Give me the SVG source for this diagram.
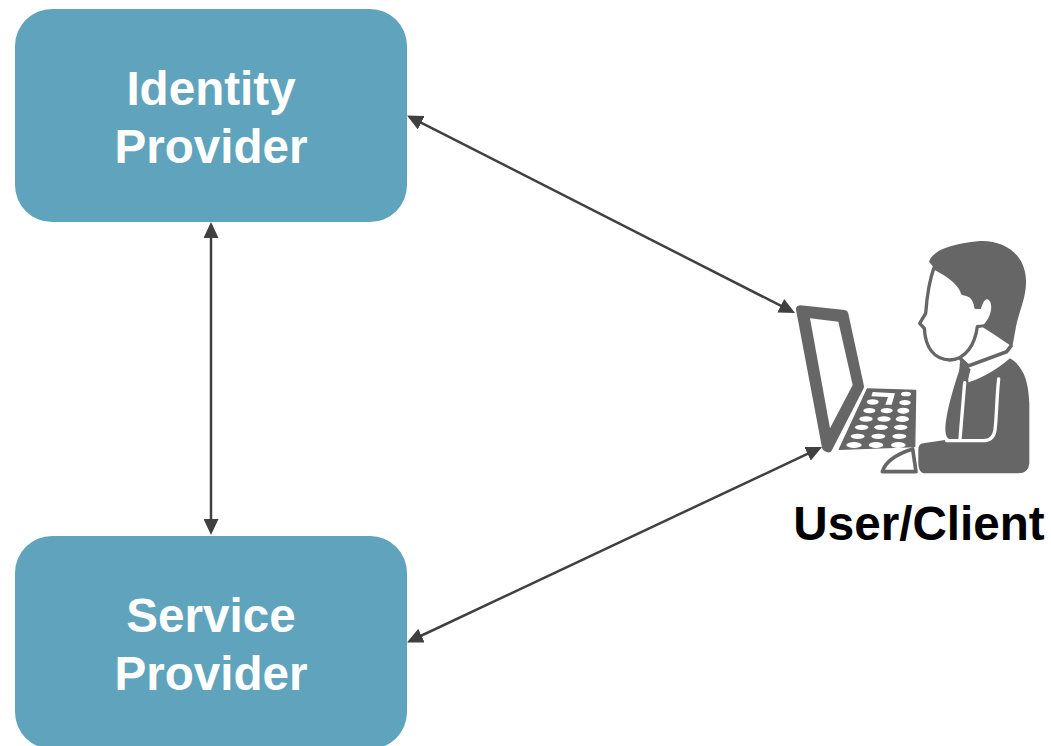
<svg xmlns="http://www.w3.org/2000/svg" width="1051" height="746" viewBox="0 0 1051 746">
<style>
.box{fill:#60a3bd}
.t{font-family:"Liberation Sans",Arial,sans-serif;font-weight:700;font-size:47.6px;text-anchor:middle}
.w{fill:#fff}
.conn{stroke:#404040;stroke-width:2.5;fill:none;marker-start:url(#a);marker-end:url(#a)}
.d{fill:#666}
.k{fill:#fff}
</style>
<defs>
<marker id="a" viewBox="0 0 16 15" refX="8" refY="7.5" markerWidth="16" markerHeight="15" markerUnits="userSpaceOnUse" orient="auto-start-reverse"><path d="M0,0L16,7.5L0,15Z" fill="#404040"/></marker>
</defs>
<rect width="1051" height="746" fill="#fff"/>
<g id="connectors">
<line class="conn" x1="211" y1="230" x2="211" y2="527"/>
<line class="conn" x1="414.1" y1="119.1" x2="787.9" y2="309.4"/>
<line class="conn" x1="414.2" y1="639" x2="814.8" y2="450.4"/>
</g>
<g id="identity-provider">
<rect class="box" x="15" y="9" width="392" height="213" rx="37"/>
<text class="t w" x="211" y="104.5">Identity</text>
<text class="t w" x="211" y="162.5">Provider</text>
</g>
<g id="service-provider">
<rect class="box" x="15" y="536" width="392" height="213" rx="37"/>
<text class="t w" x="211" y="631.5">Service</text>
<text class="t w" x="211" y="689.5">Provider</text>
</g>
<g id="user-client">
<g transform="translate(780 230) scale(.33333)">
<path class="d" d="M447,95C460,60 510,42 600,33C670,30 735,70 738,150C740,200 718,240 708,290L697,350L640,312L598,285L590,240L548,190L462,113Z"/>
<path d="M462,113C445,160 440,210 437,250L419,280L433,295C436,350 460,388 510,390C560,388 585,340 592,290L612,286C640,255 645,215 622,205C610,205 608,225 603,232L588,232C583,205 575,195 548,190C540,160 505,135 462,113Z" fill="#fff" stroke="#666" stroke-width="10" stroke-linejoin="round"/>
<path d="M604,232C608,226 610,208 622,208C640,215 638,255 612,283L596,284Z" fill="#fff"/>
<path class="d" d="M540,415L565,425L565,457C620,440 660,410 690,385C730,410 745,450 748,520L748,700Q745,730 715,730L430,730Q415,725 415,700L415,660Q415,640 430,640L510,628C495,625 495,600 497,580C505,520 525,460 540,415Z"/>
<path d="M540,385L565,408L680,365L695,345" fill="none" stroke="#666" stroke-width="11"/>
<path class="d" d="M540,392L572,418L566,440L558,458L538,422Z"/>
<path d="M554,458L540,627M656,447C650,500 650,560 645,600Q640,632 610,632L500,632" fill="none" stroke="#fff" stroke-width="10" stroke-linecap="round"/>
<path class="d" stroke="#666" stroke-width="24" stroke-linejoin="round" d="M60,238L193,252L240,470L145,655L138,652Z"/>
<path fill="#fff" d="M90,265L175,275L218,465L150,595Z"/>
<path class="d" stroke="#666" stroke-width="4" stroke-linejoin="round" d="M262,477L407,481L404,650L178,658Z"/>
<g class="k">
<path d="M278,486L345,490L335,524L316,524L324,501L274,499Z"/>
<ellipse cx="378" cy="492" rx="15" ry="7"/><ellipse cx="278" cy="516" rx="18" ry="8"/><ellipse cx="375" cy="518" rx="17" ry="8"/>
<ellipse cx="268" cy="542" rx="18" ry="8"/><ellipse cx="320" cy="542" rx="18" ry="8"/><ellipse cx="370" cy="542" rx="18" ry="9"/>
<ellipse cx="258" cy="567" rx="20" ry="8"/><ellipse cx="312" cy="567" rx="20" ry="8"/><ellipse cx="367" cy="567" rx="20" ry="9"/>
<ellipse cx="245" cy="592" rx="20" ry="8"/><ellipse cx="303" cy="592" rx="20" ry="8"/><ellipse cx="362" cy="592" rx="20" ry="8"/>
<ellipse cx="233" cy="619" rx="21" ry="8"/><ellipse cx="295" cy="619" rx="21" ry="8"/><ellipse cx="358" cy="619" rx="21" ry="8"/>
<ellipse cx="222" cy="645" rx="23" ry="9"/><ellipse cx="288" cy="645" rx="22" ry="9"/><ellipse cx="355" cy="645" rx="22" ry="9"/>
</g>
<path d="M307,725Q320,682 398,657L408,725Z" fill="#fff" stroke="#666" stroke-width="11" stroke-linejoin="round"/>
</g>
<text class="t" x="919" y="540" fill="#000">User/Client</text>
</g>
</svg>
